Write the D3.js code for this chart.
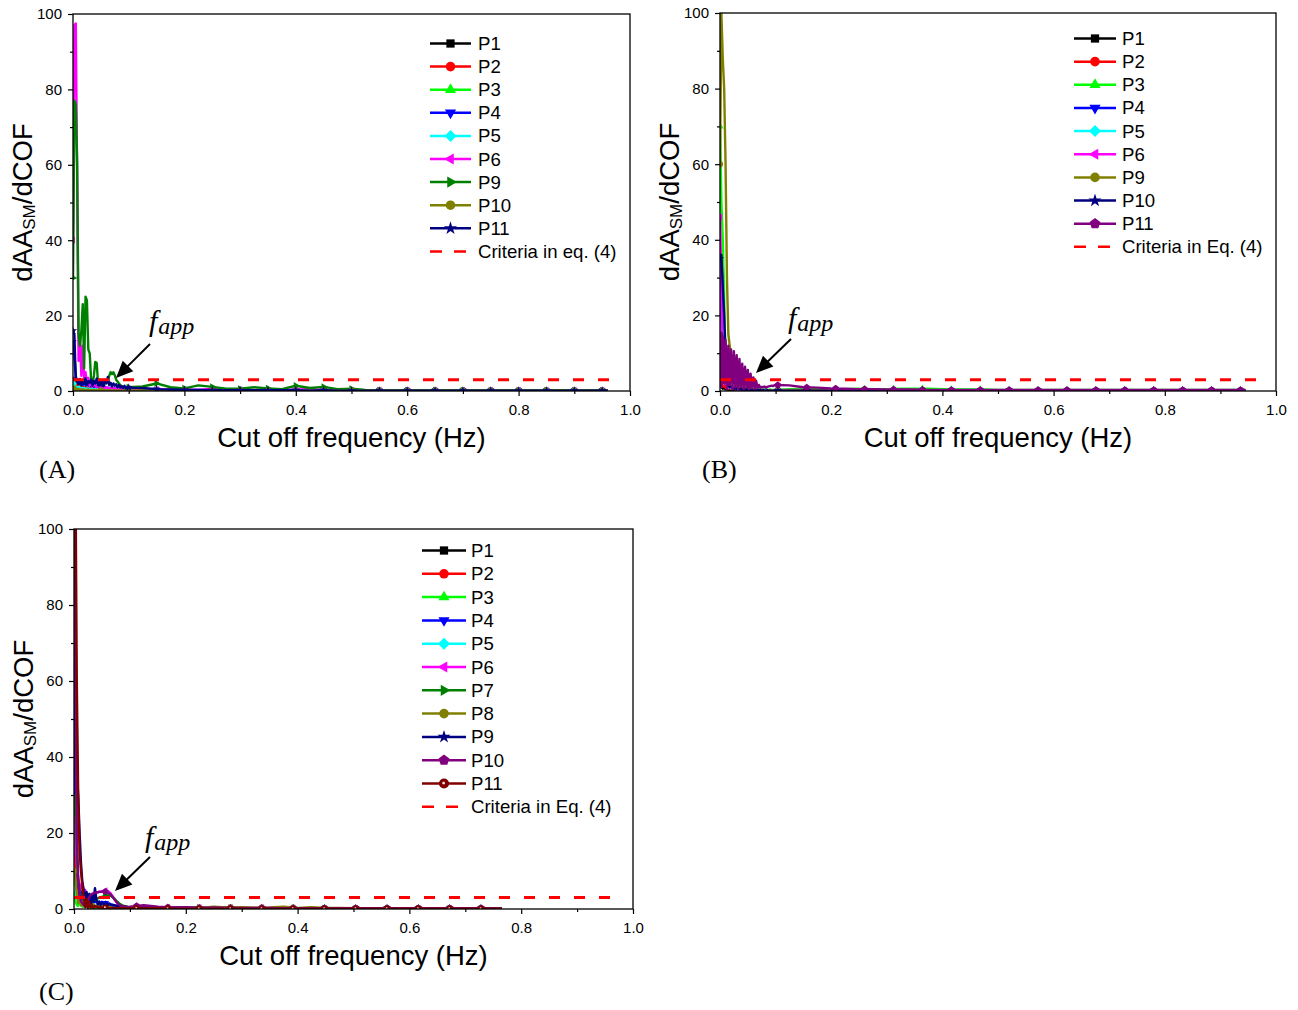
<!DOCTYPE html>
<html>
<head>
<meta charset="utf-8">
<script src="https://cdn.jsdelivr.net/npm/d3@7"></script>
<style>
  body { margin: 0; background: #fff; }
  svg { display: block; }
</style>
</head>
<body>
<svg id="fig" width="1298" height="1010"></svg>
<script>
// ---------- cut-off frequency grids (Hz) ----------
const fineFreq = [0,0.0025,0.005,0.0075,0.01,0.0125,0.015,0.0175,0.02,0.0225,0.025,0.0275,0.03,0.0325,0.035,0.0375,0.04,0.0425,0.045,0.0475,0.05,0.0525,0.055,0.0575,0.06,0.0625,0.065,0.0675,0.07,0.0725,0.075,0.0775,0.08,0.0825,0.085,0.0875,0.09,0.0925,0.095,0.0975,0.1];
const tailFreqA = [0.125,0.15,0.175,0.2,0.225,0.25,0.275,0.3,0.325,0.35,0.375,0.4,0.425,0.45,0.475,0.5,0.525,0.55,0.575,0.6,0.625,0.65,0.675,0.7,0.725,0.75,0.775,0.8,0.825,0.85,0.875,0.9,0.925,0.95,0.96];
const tailFreqB = [0.125,0.15,0.175,0.2,0.225,0.25,0.275,0.3,0.325,0.35,0.375,0.4,0.425,0.45,0.475,0.5,0.525,0.55,0.575,0.6,0.625,0.65,0.675,0.7,0.725,0.75,0.775,0.8,0.825,0.85,0.875,0.9,0.925,0.945];
const tailFreqC = [0.125,0.15,0.175,0.2,0.225,0.25,0.275,0.3,0.325,0.35,0.375,0.4,0.425,0.45,0.475,0.5,0.525,0.55,0.575,0.6,0.625,0.65,0.675,0.7,0.725,0.75,0.765];

// symbol positions along each curve
const markFreqA = [0,0.05,0.1,0.15,0.2,0.25,0.3,0.35,0.4,0.45,0.5,0.55,0.6,0.65,0.7,0.75,0.8,0.85,0.9,0.95];
const markFreqB = [0,0.052,0.104,0.156,0.208,0.26,0.312,0.364,0.416,0.468,0.52,0.572,0.624,0.676,0.728,0.78,0.832,0.884,0.936];
const markFreqC = [0,0.056,0.112,0.168,0.224,0.28,0.336,0.392,0.448,0.504,0.56,0.616,0.672,0.728];

// criterion of eq. (4)
const criteriaFreq = [0, 0.98];
const criteriaValue = [3, 3];

// ---------- axis ticks ----------
const xMajorTicks = [0, 0.2, 0.4, 0.6, 0.8, 1.0];
const xMinorTicks = [0.1, 0.3, 0.5, 0.7, 0.9];
const yMajorTicks = [0, 20, 40, 60, 80, 100];
const yMinorTicks = [10, 30, 50, 70, 90];

// ---------- (A) dAA_SM/dCOF ----------
const namesA = ["P1","P2","P3","P4","P5","P6","P9","P10","P11"];
const aP1 = [2.5,1.8,1.2,0.9,1.1,0.8,0.6,0.9,0.7,0.5, 0.6,0.8,0.5,0.4,0.6,0.5,0.4,0.5,0.3,0.4, 0.5,0.3,0.4,0.3,0.2,0.3,0.4,0.3,0.2,0.3, 0.2,0.3,0.2,0.2,0.3,0.2,0.2,0.1,0.2,0.2, 0.1,
  0.3,0.2,0.2,0.1,0.2,0.1,0.1,0.1,0.2,0.1, 0.1,0.1,0.1,0.1,0.1, 0.1,0.1,0.1,0.1,0.1, 0.1,0.1,0.1,0.1,0.1, 0.1,0.1,0.1,0.1,0.1, 0.1,0.1,0.1,0.1,0.1];
const aP2 = [3.0,2.2,1.5,2.0,1.2,1.6,0.9,1.3,0.8,1.1, 0.7,0.9,0.6,0.8,0.5,0.7,0.6,0.5,0.7,0.4, 0.5,0.6,0.4,0.5,0.3,0.4,0.5,0.3,0.4,0.3, 0.2,0.3,0.4,0.2,0.3,0.2,0.3,0.2,0.2,0.3, 0.2,
  0.3,0.2,0.3,0.2,0.2,0.1,0.2,0.1,0.1,0.2, 0.1,0.1,0.1,0.1,0.1, 0.1,0.1,0.1,0.1,0.1, 0.1,0.1,0.1,0.1,0.1, 0.1,0.1,0.1,0.1,0.1, 0.1,0.1,0.1,0.1,0.1];
const aP3 = [1.5,2.0,1.2,0.8,1.0,0.6,0.9,0.5,0.7,0.4, 0.6,0.5,0.4,0.6,0.3,0.5,0.4,0.3,0.4,0.3, 0.4,0.3,0.2,0.3,0.4,0.2,0.3,0.2,0.3,0.2, 0.3,0.2,0.2,0.3,0.2,0.2,0.1,0.2,0.2,0.1, 0.2,
  0.4,0.3,0.2,0.3,0.2,0.3,0.2,0.2,0.2,0.1, 0.2,0.2,0.1,0.2,0.1, 0.1,0.1,0.1,0.1,0.1, 0.1,0.1,0.1,0.1,0.1, 0.1,0.1,0.1,0.1,0.1, 0.1,0.1,0.1,0.1,0.1];
const aP4 = [13,9,4,2.5,3,2,2.8,1.6,2.4,1.5, 2.2,1.4,2.0,1.2,1.8,1.0,1.6,1.1,1.4,0.9, 1.2,1.0,0.8,1.1,0.7,0.9,0.8,0.6,0.8,0.7, 0.5,0.7,0.6,0.5,0.6,0.4,0.5,0.5,0.4,0.5, 0.4,
  0.4,0.3,0.3,0.2,0.3,0.2,0.2,0.2,0.2,0.2, 0.1,0.2,0.1,0.1,0.1, 0.1,0.1,0.1,0.1,0.1, 0.1,0.1,0.1,0.1,0.1, 0.1,0.1,0.1,0.1,0.1, 0.1,0.1,0.1,0.1,0.1];
const aP5 = [2.0,1.4,1.0,0.8,1.2,0.7,0.9,0.5,0.8,0.6, 0.5,0.7,0.4,0.6,0.5,0.4,0.5,0.3,0.4,0.5, 0.3,0.4,0.3,0.3,0.4,0.2,0.3,0.3,0.2,0.3, 0.2,0.3,0.2,0.2,0.2,0.3,0.2,0.2,0.1,0.2, 0.2,
  0.3,0.2,0.2,0.2,0.1, 0.1,0.1,0.1,0.1,0.1, 0.1,0.1,0.1,0.1,0.1, 0.1,0.1,0.1,0.1,0.1, 0.1,0.1,0.1,0.1,0.1, 0.1,0.1,0.1,0.1,0.1, 0.1,0.1,0.1,0.1,0.1];
const aP6 = [40,97,97.5,55,8,14,4,12,3,5, 2,3.5,1.5,2.5,1.2,2.0,1.4,1.0,1.6,0.8, 1.2,0.9,1.1,0.7,1.0,0.8,0.6,0.9,0.7,0.5, 0.8,0.6,0.5,0.6,0.4,0.6,0.5,0.4,0.5,0.4, 0.5,
  0.5,0.4,0.3,0.4,0.3,0.6,0.3,0.3,0.3,0.2, 0.3,0.4,0.5,0.3,0.2, 0.2,0.2,0.2,0.2,0.2, 0.2,0.2,0.2,0.2,0.2, 0.2,0.2,0.2,0.2,0.2, 0.2,0.2,0.2,0.2,0.2];
const aP9 = [30,77,76,60,15,12,16,23,6,25, 24,11,10,3,2,4,7.7,7.5,2,1.5, 2.5,1.5,2,3,2,2.5,4,5,4.5,5, 4.2,3,2.5,2,1.6,1.2,1.0,0.8,0.7,0.8, 1.0,
  1.2,2.0,1.0,0.7,1.5,1.1,0.6,0.6,1.0,0.7, 0.5,1.4,0.8,1.1,0.5, 0.6,0.3,0.2,0.2,0.2, 0.2,0.2,0.2,0.2,0.2, 0.2,0.2,0.2,0.2,0.2, 0.2,0.2,0.2,0.2,0.2];
const aP10 = [0.5,1.2,0.8,0.3,0.6,0.2,0.5,0.3,0.4,0.2, 0.3,0.4,0.2,0.3,0.2,0.3,0.2,0.1,0.2,0.3, 0.1,0.2,0.1,0.2,0.1,0.2,0.1,0.2,0.1,0.1, 0.2,0.1,0.1,0.2,0.1,0.1,0.1,0.1,0.2,0.1, 0.1,
  0.2,0.1,0.1,0.2,0.1, 0.1,0.1,0.1,0.1,0.1, 0.1,0.1,0.1,0.1,0.1, 0.1,0.1,0.1,0.1,0.1, 0.1,0.1,0.1,0.1,0.1, 0.1,0.1,0.1,0.1,0.1, 0.1,0.1,0.1,0.1,0.1];
const aP11 = [16,15,3,2.5,1.8,3.2,1.5,2.8,1.9,3.4, 1.6,2.6,2.2,3.0,1.4,2.7,2.0,3.3,1.5,2.4, 1.8,2.9,1.3,2.5,2.1,3.7,1.6,2.2,1.2,2.0, 1.4,1.8,1.0,1.6,0.9,1.3,0.8,1.4,0.7,1.1, 0.9,
  0.8,0.5,0.4,0.3,0.3,0.2,0.2,0.2,0.2,0.2, 0.2,0.2,0.1,0.2,0.1, 0.1,0.1,0.1,0.1,0.1, 0.1,0.1,0.1,0.1,0.1, 0.1,0.1,0.1,0.1,0.1, 0.1,0.1,0.1,0.1,0.1];

// ---------- (B) ----------
const namesB = ["P1","P2","P3","P4","P5","P6","P9","P10","P11"];
const bP1 = [1.5,1.0,0.6,0.8,0.4,0.5,0.3,0.4,0.3,0.2, 0.3,0.2,0.3,0.2,0.2,0.3,0.2,0.1,0.2,0.2, 0.1,0.2,0.1,0.1,0.2,0.1,0.1,0.1,0.2,0.1, 0.1,0.1,0.1,0.1,0.1,0.1,0.1,0.1,0.1,0.1, 0.1,
  0.1,0.1,0.1,0.1,0.1, 0.1,0.1,0.1,0.1,0.1, 0.1,0.1,0.1,0.1,0.1, 0.1,0.1,0.1,0.1,0.1, 0.1,0.1,0.1,0.1,0.1, 0.1,0.1,0.1,0.1,0.1, 0.1,0.1,0.1,0.1];
const bP2 = [2.5,1.8,1.2,1.5,0.8,1.4,0.6,1.0,0.5,0.8, 0.4,0.6,0.3,0.5,0.4,0.3,0.4,0.2,0.3,0.2, 0.3,0.2,0.2,0.3,0.2,0.1,0.2,0.2,0.1,0.2, 0.1,0.1,0.2,0.1,0.1,0.1,0.1,0.1,0.1,0.1, 0.1,
  0.1,0.1,0.1,0.1,0.1, 0.1,0.1,0.1,0.1,0.1, 0.1,0.1,0.1,0.1,0.1, 0.1,0.1,0.1,0.1,0.1, 0.1,0.1,0.1,0.1,0.1, 0.1,0.1,0.1,0.1,0.1, 0.1,0.1,0.1,0.1];
const bP3 = [70,50,40,25,6,3,2,1.5,1.2,1.0, 0.8,1.1,0.7,0.9,0.6,0.8,0.5,0.7,0.6,0.5, 0.6,0.4,0.5,0.6,0.4,0.5,0.4,0.3,0.5,0.4, 0.3,0.4,0.3,0.4,0.3,0.3,0.4,0.3,0.3,0.2, 0.3,
  0.5,0.6,0.5,0.4,0.5,0.6,0.5,0.5,0.6,0.6, 0.6,0.5,0.4,0.4,0.4, 0.3,0.3,0.3,0.3,0.3, 0.3,0.3,0.3,0.3,0.3, 0.3,0.3,0.3,0.3,0.3, 0.3,0.3,0.3,0.3];
const bP4 = [30,18,8,4,2,1.5,1.2,0.9,1.1,0.7, 0.9,0.6,0.8,0.5,0.7,0.6,0.5,0.6,0.4,0.5, 0.4,0.3,0.4,0.3,0.4,0.3,0.2,0.3,0.2,0.3, 0.2,0.2,0.3,0.2,0.2,0.2,0.2,0.1,0.2,0.2, 0.1,
  0.2,0.2,0.2,0.1,0.1, 0.1,0.1,0.1,0.1,0.1, 0.1,0.1,0.1,0.1,0.1, 0.1,0.1,0.1,0.1,0.1, 0.1,0.1,0.1,0.1,0.1, 0.1,0.1,0.1,0.1,0.1, 0.1,0.1,0.1,0.1];
const bP5 = [33,34,20,6,3,1.5,1.0,0.8,0.9,0.6, 0.7,0.5,0.6,0.4,0.5,0.4,0.3,0.4,0.3,0.3, 0.4,0.3,0.2,0.3,0.2,0.3,0.2,0.2,0.3,0.2, 0.2,0.2,0.1,0.2,0.2,0.1,0.2,0.1,0.1,0.2, 0.1,
  0.1,0.1,0.1,0.1,0.1, 0.1,0.1,0.1,0.1,0.1, 0.1,0.1,0.1,0.1,0.1, 0.1,0.1,0.1,0.1,0.1, 0.1,0.1,0.1,0.1,0.1, 0.1,0.1,0.1,0.1,0.1, 0.1,0.1,0.1,0.1];
const bP6 = [46,30,6,3,2,1.2,1.5,0.9,1.1,0.7, 0.8,0.6,0.7,0.5,0.6,0.4,0.5,0.4,0.3,0.4, 0.3,0.4,0.3,0.2,0.3,0.3,0.2,0.3,0.2,0.2, 0.3,0.2,0.2,0.2,0.1,0.2,0.2,0.1,0.2,0.1, 0.2,
  0.3,0.3,0.2,0.3,0.2,0.3,0.2,0.2,0.3,0.2, 0.2,0.2,0.2,0.2,0.2, 0.2,0.2,0.2,0.2,0.2, 0.2,0.2,0.2,0.2,0.2, 0.2,0.2,0.2,0.2,0.2, 0.2,0.2,0.2,0.2];
const bP9 = [60,100,88,80,60,30,15,12,7,5, 3,1.5,2,0.8,1.2,0.6,1.0,0.5,0.8,0.4, 0.6,0.5,0.3,0.5,0.4,0.3,0.4,0.2,0.3,0.3, 0.2,0.3,0.2,0.2,0.3,0.2,0.2,0.1,0.2,0.2, 0.1,
  0.2,0.2,0.2,0.1,0.2, 0.1,0.1,0.1,0.1,0.1, 0.1,0.1,0.1,0.1,0.1, 0.1,0.1,0.1,0.1,0.1, 0.1,0.1,0.1,0.1,0.1, 0.1,0.1,0.1,0.1,0.1, 0.1,0.1,0.1,0.1];
const bP10 = [35,36,28,20,10,2,1.5,1.0,1.2,0.8, 0.6,0.9,0.5,0.7,0.4,0.6,0.3,0.5,0.3,0.4, 0.3,0.2,0.3,0.2,0.2,0.3,0.2,0.1,0.2,0.2, 0.1,0.2,0.1,0.1,0.2,0.1,0.1,0.1,0.1,0.1, 0.1,
  0.1,0.1,0.1,0.1,0.1, 0.1,0.1,0.1,0.1,0.1, 0.1,0.1,0.1,0.1,0.1, 0.1,0.1,0.1,0.1,0.1, 0.1,0.1,0.1,0.1,0.1, 0.1,0.1,0.1,0.1,0.1, 0.1,0.1,0.1,0.1];
const bP11 = [15,1,14.5,2,13.5,0.5,12,1.5,11,0.5, 10.5,1,9.5,0.5,8.5,1,7.2,0.5,6.4,1, 5.6,0.5,4.6,1,3.6,0.5,2.7,0.8,1.6,0.9, 1.1,1.0,1.2,0.9,1.1,1.2,1.3,1.4,1.3,1.5, 1.6,
  1.5,1.0,0.9,0.7,0.6,0.5,0.5,0.4,0.4,0.4, 0.3,0.3,0.3,0.3,0.3, 0.3,0.3,0.3,0.3,0.3, 0.3,0.3,0.3,0.3,0.3, 0.3,0.3,0.3,0.3,0.3, 0.3,0.3,0.3,0.3];

// ---------- (C) ----------
const namesC = ["P1","P2","P3","P4","P5","P6","P7","P8","P9","P10","P11"];
const cP1 = [60,30,10,4,2,1.5,1.0,0.8,1.2,0.6, 0.9,0.5,0.7,0.4,0.6,0.3,0.5,0.4,0.3,0.4, 0.3,0.2,0.3,0.3,0.2,0.3,0.2,0.2,0.3,0.2, 0.2,0.1,0.2,0.2,0.1,0.2,0.1,0.1,0.2,0.1, 0.1,
  0.1,0.1,0.1,0.1,0.1, 0.1,0.1,0.1,0.1,0.1, 0.1,0.1,0.1,0.1,0.1, 0.1,0.1,0.1,0.1,0.1, 0.1,0.1,0.1,0.1,0.1, 0.1,0.1];
const cP2 = [20,12,5,3,1.5,1.0,2.0,0.8,1.4,0.6, 1.0,0.5,0.8,0.4,0.6,0.5,0.3,0.5,0.4,0.3, 0.4,0.3,0.2,0.3,0.2,0.3,0.2,0.2,0.2,0.2, 0.1,0.2,0.1,0.2,0.1,0.1,0.1,0.1,0.1,0.1, 0.1,
  0.1,0.1,0.1,0.1,0.1, 0.1,0.1,0.1,0.1,0.1, 0.1,0.1,0.1,0.1,0.1, 0.1,0.1,0.1,0.1,0.1, 0.1,0.1,0.1,0.1,0.1, 0.1,0.1];
const cP3 = [4,2,1,0.8,3,1.2,0.6,1.0,0.5,0.8, 0.4,0.7,0.3,0.6,0.4,0.3,0.5,0.3,0.4,0.2, 0.3,0.2,0.3,0.2,0.2,0.3,0.2,0.1,0.2,0.2, 0.1,0.2,0.1,0.1,0.2,0.1,0.1,0.1,0.1,0.1, 0.1,
  0.2,0.1,0.2,0.1,0.1, 0.1,0.1,0.1,0.1,0.1, 0.1,0.1,0.1,0.1,0.1, 0.1,0.1,0.1,0.1,0.1, 0.1,0.1,0.1,0.1,0.1, 0.1,0.1];
const cP4 = [40,30,14,6,4,5,3,2,3.5,2.2, 2.8,1.6,2.4,1.5,2.0,1.8,2.2,1.5,1.8,1.6, 1.9,1.7,1.5,1.6,1.4,1.5,1.3,1.2,1.1,1.0, 0.9,0.8,0.7,0.6,0.6,0.5,0.5,0.4,0.4,0.4, 0.3,
  0.3,0.3,0.2,0.3,0.2, 0.2,0.2,0.2,0.2,0.2, 0.2,0.2,0.2,0.2,0.2, 0.2,0.2,0.2,0.2,0.2, 0.2,0.2,0.2,0.2,0.2, 0.2,0.2];
const cP5 = [10,6,3,2,1.5,2.5,1.2,1.8,1.0,1.4, 0.9,1.2,0.8,1.0,0.7,0.9,0.6,0.8,0.7,0.6, 0.5,0.6,0.5,0.4,0.5,0.4,0.3,0.4,0.3,0.3, 0.3,0.2,0.3,0.2,0.2,0.2,0.2,0.2,0.1,0.2, 0.1,
  0.1,0.1,0.1,0.1,0.1, 0.1,0.1,0.1,0.1,0.1, 0.1,0.1,0.1,0.1,0.1, 0.1,0.1,0.1,0.1,0.1, 0.1,0.1,0.1,0.1,0.1, 0.1,0.1];
const cP6 = [15,26,12,8,6.5,5,7,4,5,3, 3.5,2.5,2.8,3.2,3.6,4.0,4.2,4.4,4.5,4.6, 4.6,4.7,4.8,4.8,4.7,4.5,4.2,3.7,3.2,2.6, 2.1,1.7,1.3,1.0,0.9,0.8,0.7,0.6,0.6,0.5, 0.5,
  0.5,0.4,0.4,0.3,0.4, 0.3,0.3,0.3,0.3,0.3, 0.3,0.2,0.2,0.2,0.2, 0.2,0.2,0.2,0.2,0.2, 0.2,0.2,0.2,0.2,0.2, 0.2,0.2];
const cP7 = [25,30,15,7,5,3,2.5,4,2,3, 1.5,2,1.8,2.0,2.2,2.4,2.6,2.8,3.0,3.1, 3.2,3.3,3.4,3.5,3.6,3.6,3.5,3.3,3.0,2.7, 2.3,1.9,1.6,1.3,1.1,0.9,0.8,0.7,0.6,0.5, 0.5,
  0.4,0.4,0.3,0.3,0.4, 0.3,0.3,0.3,0.3,0.2, 0.2,0.2,0.2,0.2,0.2, 0.2,0.2,0.2,0.2,0.2, 0.2,0.2,0.2,0.2,0.2, 0.2,0.2];
const cP8 = [10,8,4,1.5,2.5,1.0,1.8,0.8,1.5,0.6, 1.2,0.5,1.0,0.4,1.3,0.6,0.9,0.5,0.8,0.4, 0.7,0.5,0.6,0.4,0.5,0.3,0.6,0.4,0.3,0.5, 0.3,0.4,0.3,0.2,0.3,0.2,0.3,0.2,0.2,0.2, 0.2,
  0.3,0.4,0.3,0.5,0.3, 0.6,0.4,0.5,0.3,0.4, 0.6,0.3,0.5,0.3,0.3, 0.2,0.2,0.2,0.2,0.2, 0.2,0.2,0.2,0.2,0.2, 0.2,0.2];
const cP9 = [118,36,36,30,20,12,7,5,2,4.5, 2.5,4,1.5,3.5,2.0,5.5,2.5,1.2,2.0,1.0, 1.6,1.3,1.1,1.4,1.0,1.2,1.1,1.0,0.9,1.0, 0.8,0.9,0.7,0.8,0.6,0.7,0.5,0.6,0.5,0.5, 0.4,
  0.4,0.3,0.3,0.3,0.2, 0.2,0.2,0.2,0.2,0.2, 0.2,0.2,0.2,0.2,0.2, 0.2,0.2,0.2,0.2,0.2, 0.2,0.2,0.2,0.2,0.2, 0.2,0.2];
const cP10 = [118,60,20,8,4,2,1.5,1.0,1.2,1.8, 2.5,3.2,3.7,4.0,4.2,4.3,4.4,4.4,4.5,4.5, 4.5,4.6,4.6,4.5,4.4,4.2,3.9,3.5,3.0,2.5, 2.0,1.6,1.2,1.0,0.8,0.7,0.6,0.6,0.5,0.5, 0.6,
  1.0,0.6,0.4,0.5,0.3, 0.4,0.3,0.3,0.3,0.3, 0.2,0.2,0.2,0.2,0.2, 0.2,0.2,0.2,0.2,0.2, 0.2,0.2,0.2,0.2,0.2, 0.2,0.2];
const cP11 = [118,118,60,30,15,10,6,3,0.5,2.5, 0.3,2.0,0.4,1.0,0.3,0.8,0.5,0.6,0.3,0.5, 0.4,0.3,0.4,0.3,0.2,0.3,0.2,0.3,0.2,0.2, 0.3,0.2,0.2,0.2,0.2,0.2,0.2,0.2,0.2,0.2, 0.2,
  0.2,0.2,0.1,0.1,0.1, 0.1,0.1,0.1,0.1,0.1, 0.1,0.1,0.1,0.1,0.1, 0.1,0.1,0.1,0.1,0.1, 0.1,0.1,0.1,0.1,0.1, 0.1,0.1];

// ---------- styling ----------
const SANS = "'Liberation Sans', Arial, Helvetica, sans-serif";
const SERIF = "'Liberation Serif', 'Times New Roman', serif";

const pentagon = {
  draw(ctx, size) {
    const r = Math.sqrt(size / 2.378);
    for (let i = 0; i < 5; i++) {
      const a = -Math.PI / 2 + i * 2 * Math.PI / 5;
      const px = r * Math.cos(a), py = r * Math.sin(a);
      if (i === 0) ctx.moveTo(px, py); else ctx.lineTo(px, py);
    }
    ctx.closePath();
  }
};
const diamond = {
  draw(ctx, size) {
    const r = Math.sqrt(size / 2);
    ctx.moveTo(0, -r); ctx.lineTo(r, 0); ctx.lineTo(0, r); ctx.lineTo(-r, 0); ctx.closePath();
  }
};
const shapes = {
  square:   { type: d3.symbolSquare, rot: 0, k: 0.95 },
  circle:   { type: d3.symbolCircle, rot: 0, k: 1.0 },
  up:       { type: d3.symbolTriangle, rot: 0, k: 0.75 },
  down:     { type: d3.symbolTriangle, rot: 180, k: 0.75 },
  diamond:  { type: diamond, rot: 0, k: 1.0 },
  left:     { type: d3.symbolTriangle, rot: -90, k: 0.75 },
  right:    { type: d3.symbolTriangle, rot: 90, k: 0.75 },
  star:     { type: d3.symbolStar, rot: 0, k: 0.75 },
  pentagon: { type: pentagon, rot: 0, k: 1.05 },
  dotted:   { type: d3.symbolCircle, rot: 0, k: 1.1, dot: true }
};

function drawSymbol(g, shapeName, color, cx, cy, area) {
  const s = shapes[shapeName];
  g.append("path")
    .attr("d", d3.symbol().type(s.type).size(area * s.k)())
    .attr("transform", `translate(${cx},${cy}) rotate(${s.rot})`)
    .attr("fill", color);
  if (s.dot) {
    g.append("circle").attr("cx", cx - 0.4).attr("cy", cy - 0.4)
      .attr("r", Math.sqrt(area) * 0.17).attr("fill", "#f4dede");
  }
}

function valueAt(pts, f) {
  if (f < pts[0][0] || f > pts[pts.length - 1][0]) return null;
  const i = d3.bisector(d => d[0]).left(pts, f);
  if (pts[i][0] === f) return pts[i][1];
  const a = pts[i - 1], b = pts[i];
  return a[1] + (b[1] - a[1]) * (f - a[0]) / (b[0] - a[0]);
}

const svg = d3.select("#fig");

function buildPanel(p) {
  const g = svg.append("g");
  const x = d3.scaleLinear().domain([0, 1]).range([p.left, p.right]);
  const y = d3.scaleLinear().domain([0, 100]).range([p.bottom, p.top]);

  svg.append("clipPath").attr("id", "clip" + p.id)
    .append("rect").attr("x", p.left).attr("y", p.top)
    .attr("width", p.right - p.left).attr("height", p.bottom - p.top);
  const plot = g.append("g").attr("clip-path", `url(#clip${p.id})`);
  const line = d3.line().x(d => x(d[0])).y(d => y(d[1]));

  p.series.forEach(s => {
    const pts = p.freq.map((f, i) => [f, s.values[i]]).filter(d => d[1] != null);
    plot.append("path").attr("d", line(pts))
      .attr("fill", "none").attr("stroke", s.color)
      .attr("stroke-width", 2.4).attr("stroke-linejoin", "round");
    p.marks.forEach(m => {
      const v = valueAt(pts, m);
      if (v == null) return;
      drawSymbol(plot, s.shape, s.color, x(m), y(v), 30);
    });
  });

  plot.append("path").attr("d", line(d3.zip(criteriaFreq, criteriaValue)))
    .attr("fill", "none").attr("stroke", "#ff0000").attr("stroke-width", 3)
    .attr("stroke-dasharray", "11,14");

  // frame
  g.append("rect").attr("x", p.left).attr("y", p.top)
    .attr("width", p.right - p.left).attr("height", p.bottom - p.top)
    .attr("fill", "none").attr("stroke", "#000").attr("stroke-width", 1.3);

  const styleAxis = a => {
    a.select(".domain").remove();
    a.attr("font-family", SANS).attr("font-size", 15);
    a.selectAll(".tick line").attr("stroke", "#000").attr("stroke-width", 1.2);
    a.selectAll(".tick text").attr("fill", "#000");
  };
  g.append("g").attr("transform", `translate(0,${p.bottom})`)
    .call(d3.axisBottom(x).tickValues(xMajorTicks).tickFormat(d3.format(".1f")).tickSize(5).tickPadding(8))
    .call(styleAxis);
  g.append("g").attr("transform", `translate(0,${p.bottom})`)
    .call(d3.axisBottom(x).tickValues(xMinorTicks).tickFormat("").tickSize(3))
    .call(styleAxis);
  g.append("g").attr("transform", `translate(${p.left},0)`)
    .call(d3.axisLeft(y).tickValues(yMajorTicks).tickSize(5).tickPadding(6))
    .call(styleAxis);
  g.append("g").attr("transform", `translate(${p.left},0)`)
    .call(d3.axisLeft(y).tickValues(yMinorTicks).tickFormat("").tickSize(3))
    .call(styleAxis);

  // axis titles
  g.append("text").attr("x", (p.left + p.right) / 2).attr("y", p.bottom + 56)
    .attr("text-anchor", "middle").attr("font-family", SANS).attr("font-size", 27.5)
    .text("Cut off frequency (Hz)");
  const yl = g.append("text")
    .attr("transform", `translate(${p.left - 41},${(p.top + p.bottom) / 2}) rotate(-90)`)
    .attr("text-anchor", "middle").attr("font-family", SANS).attr("font-size", 27.5);
  yl.append("tspan").text("dAA");
  yl.append("tspan").attr("font-size", 17).attr("dy", 3).text("SM");
  yl.append("tspan").attr("dy", -3).text("/dCOF");

  // legend
  const lg = g.append("g");
  p.series.forEach((s, i) => {
    const cy = p.legend.y0 + i * p.legend.step;
    lg.append("line").attr("x1", p.legend.x1).attr("x2", p.legend.x2)
      .attr("y1", cy).attr("y2", cy).attr("stroke", s.color).attr("stroke-width", 2.5);
    drawSymbol(lg, s.shape, s.color, (p.legend.x1 + p.legend.x2) / 2, cy, 72);
    lg.append("text").attr("x", p.legend.tx).attr("y", cy + 6.5)
      .attr("font-family", SANS).attr("font-size", 18.6).text(s.name);
  });
  const cyC = p.legend.y0 + p.series.length * p.legend.step;
  lg.append("line").attr("x1", p.legend.x1).attr("x2", p.legend.x2)
    .attr("y1", cyC).attr("y2", cyC).attr("stroke", "#ff0000").attr("stroke-width", 2.5)
    .attr("stroke-dasharray", "12,12");
  lg.append("text").attr("x", p.legend.tx).attr("y", cyC + 6.5)
    .attr("font-family", SANS).attr("font-size", 18.6).text(p.criteriaLabel);

  // f_app annotation with arrow
  const an = p.note;
  const ft = g.append("text").attr("x", an.tx).attr("y", an.ty)
    .attr("font-family", SERIF).attr("font-style", "italic").attr("font-size", 30);
  ft.append("tspan").text("f");
  ft.append("tspan").attr("font-size", 24).attr("dx", 1).attr("dy", 3).text("app");
  const dx = an.x2 - an.x1, dy = an.y2 - an.y1, len = Math.hypot(dx, dy);
  const ux = dx / len, uy = dy / len, head = 17, half = 7.5;
  const bx = an.x2 - ux * head, by = an.y2 - uy * head;
  g.append("line").attr("x1", an.x1).attr("y1", an.y1).attr("x2", bx + ux * 2).attr("y2", by + uy * 2)
    .attr("stroke", "#000").attr("stroke-width", 2);
  g.append("path")
    .attr("d", `M${an.x2},${an.y2}L${bx - uy * half},${by + ux * half}L${bx + uy * half},${by - ux * half}Z`)
    .attr("fill", "#000");

  // panel letter
  g.append("text").attr("x", p.tag.x).attr("y", p.tag.y)
    .attr("font-family", SERIF).attr("font-size", 26).text(p.tag.text);
}

const colorsA = ["#000000","#ff0000","#00ff00","#0000ff","#00ffff","#ff00ff","#008000","#808000","#000080"];
const shapesA = ["square","circle","up","down","diamond","left","right","circle","star"];
const colorsB = ["#000000","#ff0000","#00ff00","#0000ff","#00ffff","#ff00ff","#808000","#000080","#800080"];
const shapesB = ["square","circle","up","down","diamond","left","circle","star","pentagon"];
const colorsC = ["#000000","#ff0000","#00ff00","#0000ff","#00ffff","#ff00ff","#008000","#808000","#000080","#800080","#800000"];
const shapesC = ["square","circle","up","down","diamond","left","right","circle","star","pentagon","dotted"];

const seriesOf = (names, vals, colors, shp) =>
  names.map((n, i) => ({ name: n, values: vals[i], color: colors[i], shape: shp[i] }));

buildPanel({
  id: "A", left: 73, right: 630, top: 14, bottom: 391,
  freq: fineFreq.concat(tailFreqA), marks: markFreqA,
  series: seriesOf(namesA, [aP1,aP2,aP3,aP4,aP5,aP6,aP9,aP10,aP11], colorsA, shapesA),
  legend: { x1: 430, x2: 471, tx: 478, y0: 43.5, step: 23.1 },
  criteriaLabel: "Criteria in eq. (4)",
  note: { tx: 149, ty: 331, x1: 150, y1: 344, x2: 116, y2: 378 },
  tag: { text: "(A)", x: 39, y: 478 }
});
buildPanel({
  id: "B", left: 720, right: 1276, top: 13, bottom: 391,
  freq: fineFreq.concat(tailFreqB), marks: markFreqB,
  series: seriesOf(namesB, [bP1,bP2,bP3,bP4,bP5,bP6,bP9,bP10,bP11], colorsB, shapesB),
  legend: { x1: 1074, x2: 1116, tx: 1122, y0: 38.5, step: 23.15 },
  criteriaLabel: "Criteria in Eq. (4)",
  note: { tx: 788, ty: 328, x1: 791, y1: 339, x2: 756, y2: 373 },
  tag: { text: "(B)", x: 702, y: 478 }
});
buildPanel({
  id: "C", left: 74, right: 633, top: 529, bottom: 909,
  freq: fineFreq.concat(tailFreqC), marks: markFreqC,
  series: seriesOf(namesC, [cP1,cP2,cP3,cP4,cP5,cP6,cP7,cP8,cP9,cP10,cP11], colorsC, shapesC),
  legend: { x1: 422, x2: 466, tx: 471, y0: 550.5, step: 23.3 },
  criteriaLabel: "Criteria in Eq. (4)",
  note: { tx: 145, ty: 847, x1: 150, y1: 857, x2: 115, y2: 891 },
  tag: { text: "(C)", x: 39, y: 1000 }
});
</script>
</body>
</html>
